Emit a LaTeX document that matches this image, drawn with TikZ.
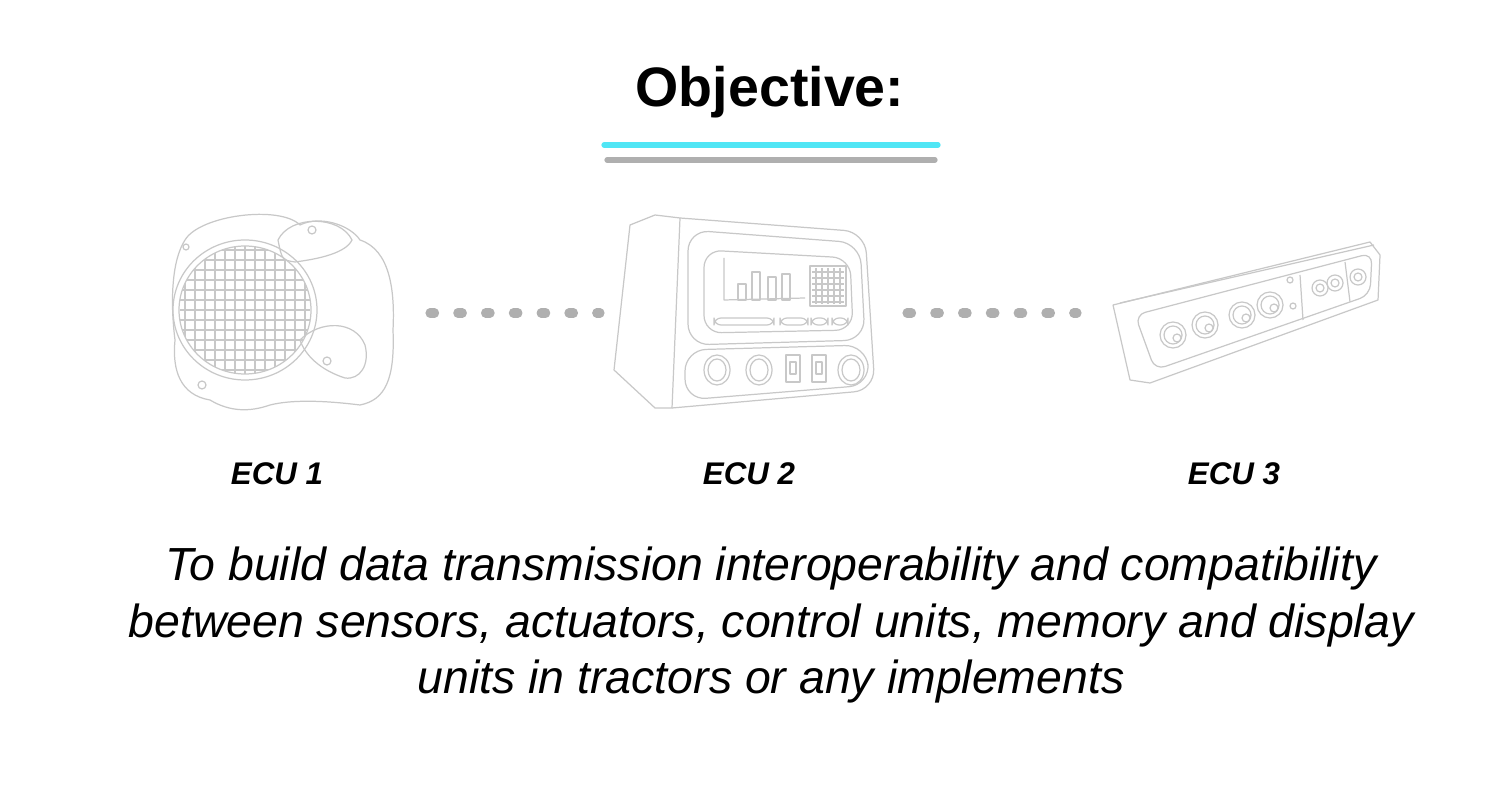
\documentclass[tikz,border=0pt]{standalone}
\usepackage{fontspec}
\setmainfont{Liberation Sans}
\definecolor{linegray}{RGB}{200,200,200}
\definecolor{dotgray}{RGB}{175,175,175}
\definecolor{titlecyan}{RGB}{80,230,245}
\tikzset{
  sketch/.style={draw=linegray, line width=0.35pt, line join=round},
  dotrow/.style={dotgray, line width=2.6pt, line cap=round},
  ecu label/.style={font=\fontsize{8.9}{11}\selectfont\bfseries\itshape}
}
\begin{document}
\begin{tikzpicture}[x=0.01cm,y=-0.01cm]
\useasboundingbox (0,0) rectangle (1501,801);
% title
\node (title) at (770,92) {\fontsize{15.8}{19}\selectfont\bfseries Objective:};
\draw [titlecyan, line width=1.5pt, line cap=round] (604,145) -- (938,145);
\draw [dotgray, line width=1.5pt, line cap=round] (607,160) -- (935,160);
% ECU 1
\draw [sketch] (185,240) .. controls (200,215) and (280,205) .. (300,225)
  .. controls (320,215) and (350,225) .. (360,240)
  .. controls (390,250) and (395,290) .. (393,330)
  .. controls (395,380) and (385,400) .. (360,405)
  .. controls (320,400) and (290,400) .. (270,405)
  .. controls (250,412) and (230,412) .. (210,400)
  .. controls (180,395) and (172,370) .. (175,340)
  .. controls (170,300) and (172,260) .. (185,240) -- cycle;
\draw [sketch] (278,240) .. controls (290,215) and (340,215) .. (352,240)
  .. controls (345,255) and (310,260) .. (295,262) .. controls (282,260) .. (278,240);
\draw [sketch] (300,340) .. controls (320,320) and (355,320) .. (365,345)
  .. controls (370,365) and (360,380) .. (345,378) .. controls (320,370) and (305,355) .. (300,340);
\draw [sketch] (312,230) circle (4);
\draw [sketch] (202,385) circle (4);
\draw [sketch] (186,247) circle (3);
\draw [sketch] (327,361) circle (4);
\begin{scope}
  \clip (245,310) ellipse (66 and 64);
  \foreach \gx in {185,195,...,305} \draw [sketch] (\gx,240) -- (\gx,380);
  \foreach \gy in {250,260,...,370} \draw [sketch] (180,\gy) -- (310,\gy);
\end{scope}
\draw [sketch] (245,310) ellipse (66 and 64);
\draw [sketch] (245,310) ellipse (72 and 70);
% ECU 2
\draw [sketch] (630,225) -- (655,215) -- (680,218) -- (672,408) -- (655,408) -- (614,370) -- cycle;
\draw [sketch, rounded corners=6] (680,218) -- (865,232) -- (875,390) -- (672,408);
\draw [sketch, rounded corners=6] (688,230) -- (860,243) -- (865,340) -- (688,345) -- cycle;
\draw [sketch, rounded corners=5] (704,250) -- (850,258) -- (853,330) -- (704,333) -- cycle;
\draw [sketch, rounded corners=6] (685,350) -- (866,345) -- (870,385) -- (685,400) -- cycle;
\draw [sketch] (724,258) -- (724,300) -- (805,298);
\foreach \bx/\bh in {738/16,752/28,768/23,782/26}
  \draw [sketch] (\bx,300) rectangle ++(8,-\bh);
\draw [sketch] (810,266) rectangle (846,306);
\foreach \gx in {816,822,...,840} \draw [sketch] (\gx,268) -- (\gx,304);
\foreach \gy in {272,278,...,302} \draw [sketch] (812,\gy) -- (844,\gy);
\foreach \rx/\rw in {714/60,780/28,811/17,832/16}
  \draw [sketch, rounded corners=2] (\rx,318) rectangle ++(\rw,7);
\foreach \cx in {717,759,851} {
  \draw [sketch] (\cx,370) ellipse (13 and 15);
  \draw [sketch] (\cx,370) ellipse (9 and 11);
}
\foreach \sx in {786,812} {
  \draw [sketch] (\sx,355) rectangle ++(14,27);
  \draw [sketch] (\sx+4,362) rectangle ++(6,12);
}
% ECU 3
\draw [sketch] (1113,305) -- (1370,242) -- (1380,255) -- (1378,300) -- (1150,383) -- (1130,380) -- cycle;
\draw [sketch] (1120,303) -- (1374,245);
\draw [sketch, rounded corners=3] (1135,315) -- (1372,253) -- (1370,295) -- (1155,370) -- cycle;
\draw [sketch] (1300,275) -- (1303,320);
\draw [sketch] (1345,262) -- (1350,302);
\foreach \kx/\ky in {1173/335,1205/325,1242/315,1270/305} {
  \draw [sketch] (\kx,\ky) circle (13);
  \draw [sketch] (\kx,\ky) circle (9);
  \draw [sketch] (\kx+4,\ky+3) circle (4);
}
\foreach \kx/\ky in {1320/288,1335/283,1358/277} {
  \draw [sketch] (\kx,\ky) circle (8);
  \draw [sketch] (\kx,\ky) circle (4);
}
\draw [sketch] (1290,280) circle (3);
\draw [sketch] (1293,306) circle (3);
% connectors
\draw [dotrow, dash pattern=on 1.3pt off 6.6pt] (430,313) -- (600,313);
\draw [dotrow, dash pattern=on 1.3pt off 6.6pt] (907,313) -- (1077,313);
% labels
\node [ecu label] (ecu1) at (277,474) {ECU 1};
\node [ecu label] (ecu2) at (749,474) {ECU 2};
\node [ecu label] (ecu3) at (1234,474) {ECU 3};
\node [align=center, font=\fontsize{13.2}{16.2}\selectfont\itshape] (goal) at (771,625)
  {To build data transmission interoperability and compatibility\\
   between sensors, actuators, control units, memory and display\\
   units in tractors or any implements};
\end{tikzpicture}
\end{document}
